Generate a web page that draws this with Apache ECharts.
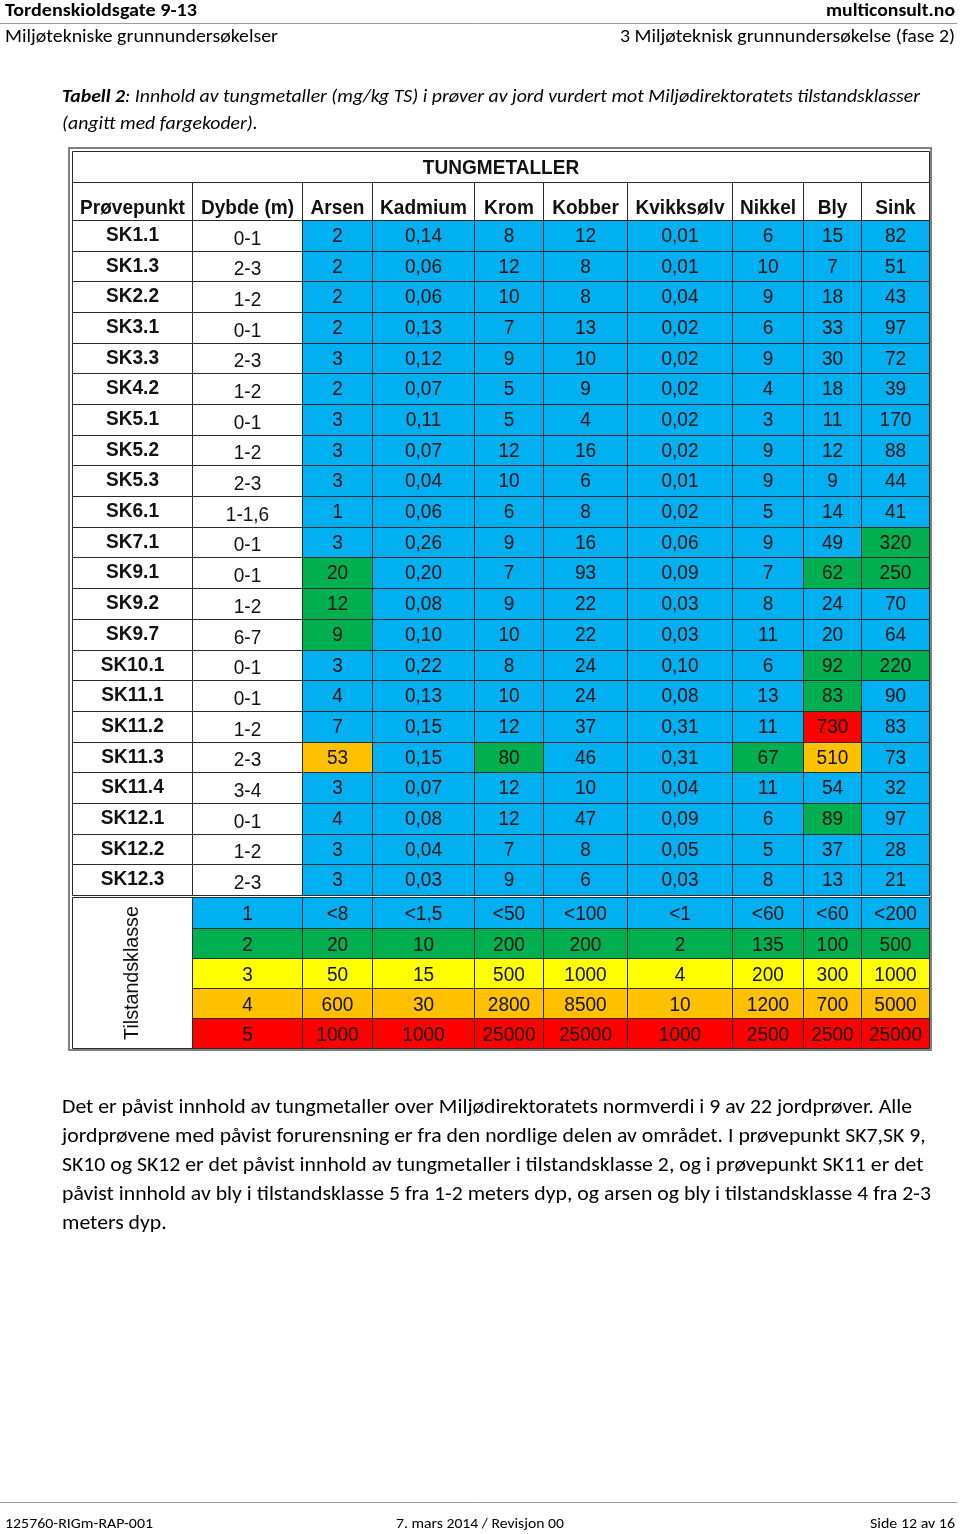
<!DOCTYPE html>
<html><head><meta charset="utf-8">
<script src="https://cdn.jsdelivr.net/npm/echarts@6/dist/echarts.min.js"></script>
<style>html,body{margin:0;padding:0;background:#fff}#c{width:960px;height:1534px}</style>
</head><body><div id="c"></div>
<script>
// ---------------- DATA ----------------
const title = 'TUNGMETALLER';
const samples = ['SK1.1','SK1.3','SK2.2','SK3.1','SK3.3','SK4.2','SK5.1','SK5.2','SK5.3','SK6.1','SK7.1','SK9.1','SK9.2','SK9.7','SK10.1','SK11.1','SK11.2','SK11.3','SK11.4','SK12.1','SK12.2','SK12.3'];
const depths = ['0-1','2-3','1-2','0-1','2-3','1-2','0-1','1-2','2-3','1-1,6','0-1','0-1','1-2','6-7','0-1','0-1','1-2','2-3','3-4','0-1','1-2','2-3'];
const metals = ['Arsen','Kadmium','Krom','Kobber','Kvikksølv','Nikkel','Bly','Sink'];
const headerLabels = ['Prøvepunkt','Dybde (m)'].concat(metals);

const arsen     = [2,2,2,2,3,2,3,3,3,1,3,20,12,9,3,4,7,53,3,4,3,3];
const kadmium   = [0.14,0.06,0.06,0.13,0.12,0.07,0.11,0.07,0.04,0.06,0.26,0.20,0.08,0.10,0.22,0.13,0.15,0.15,0.07,0.08,0.04,0.03];
const krom      = [8,12,10,7,9,5,5,12,10,6,9,7,9,10,8,10,12,80,12,12,7,9];
const kobber    = [12,8,8,13,10,9,4,16,6,8,16,93,22,22,24,24,37,46,10,47,8,6];
const kvikksolv = [0.01,0.01,0.04,0.02,0.02,0.02,0.02,0.02,0.01,0.02,0.06,0.09,0.03,0.03,0.10,0.08,0.31,0.31,0.04,0.09,0.05,0.03];
const nikkel    = [6,10,9,6,9,4,3,9,9,5,9,7,8,11,6,13,11,67,11,6,5,8];
const bly       = [15,7,18,33,30,18,11,12,9,14,49,62,24,20,92,83,730,510,54,89,37,13];
const sink      = [82,51,43,97,72,39,170,88,44,41,320,250,70,64,220,90,83,73,32,97,28,21];

// class limits (class 1 upper "<", then upper bounds of classes 2..5)
const arsenLimits     = [8,20,50,600,1000];
const kadmiumLimits   = [1.5,10,15,30,1000];
const kromLimits      = [50,200,500,2800,25000];
const kobberLimits    = [100,200,1000,8500,25000];
const kvikksolvLimits = [1,2,4,10,1000];
const nikkelLimits    = [60,135,200,1200,2500];
const blyLimits       = [60,100,300,700,2500];
const sinkLimits      = [200,500,1000,5000,25000];
const classes = [1,2,3,4,5];
const classLabel = 'Tilstandsklasse';

const metalValues = [arsen,kadmium,krom,kobber,kvikksolv,nikkel,bly,sink];
const metalLimits = [arsenLimits,kadmiumLimits,kromLimits,kobberLimits,kvikksolvLimits,nikkelLimits,blyLimits,sinkLimits];
const metalDecimals = [0,2,0,0,2,0,0,0];

// ---------------- STYLE / LAYOUT ----------------
const classColors = ['#00B0F0','#00B050','#FFFF00','#FFC000','#FF0000'];
const TFONT = '"Liberation Sans", Arial, sans-serif';
const DFONT = 'Carlito, Lato, "Open Sans", sans-serif';
const TSIZE = 20.5, TSCALE = 0.93;
const colW = [120,110,70,102,69,84,105,71,58,68];
const TITLE_H = 31, HEAD_H = 38, ROW_H = 30.68, GAP = 2.5, CROW_H = 30.1;

const colX = [0]; colW.forEach(w => colX.push(colX[colX.length-1] + w));
const rowY = [0, TITLE_H, TITLE_H + HEAD_H];
for (let i = 0; i < samples.length; i++) rowY.push(rowY[rowY.length-1] + ROW_H);
rowY.push(rowY[rowY.length-1] + GAP);
const classStart = rowY.length - 1;
for (let j = 0; j < classes.length; j++) rowY.push(rowY[rowY.length-1] + CROW_H);
const totalW = colX[colX.length-1], totalH = rowY[rowY.length-1];

function fmt(v, d) { return d ? v.toFixed(d).replace('.', ',') : String(v).replace('.', ','); }
function classOf(v, lim) {
  if (v < lim[0]) return 1;
  for (let k = 1; k < 5; k++) if (v <= lim[k]) return k + 1;
  return 5;
}

// ---------------- CELLS ----------------
const cells = [];
cells.push({c0:0,c1:10,r0:0,r1:1,text:title,bold:true,fill:'#fff',dy:1.5});
headerLabels.forEach((h,i) => cells.push({c0:i,c1:i+1,r0:1,r1:2,text:h,bold:true,fill:'#fff',dy:7}));
samples.forEach((s,r) => {
  cells.push({c0:0,c1:1,r0:2+r,r1:3+r,text:s,bold:true,fill:'#fff',dy:-0.5});
  cells.push({c0:1,c1:2,r0:2+r,r1:3+r,text:depths[r],fill:'#fff',dy:3});
  metalValues.forEach((arr,m) => {
    const v = arr[r];
    cells.push({c0:2+m,c1:3+m,r0:2+r,r1:3+r,text:fmt(v,metalDecimals[m]),fill:classColors[classOf(v,metalLimits[m])-1],dy:0.5});
  });
});
cells.push({c0:0,c1:1,r0:classStart,r1:classStart+classes.length,text:classLabel,fill:'#fff',rotate:true,dy:0});
classes.forEach((c,j) => {
  const r0 = classStart + j;
  cells.push({c0:1,c1:2,r0:r0,r1:r0+1,text:String(c),fill:classColors[j],dy:1.5});
  metalLimits.forEach((lim,m) => {
    const t = (j === 0 ? '<' : '') + fmt(lim[j], 0);
    cells.push({c0:2+m,c1:3+m,r0:r0,r1:r0+1,text:t,fill:classColors[j],dy:1.5});
  });
});

function renderItem(params, api) {
  const cell = cells[api.value(0)];
  const p0 = api.coord([colX[cell.c0], rowY[cell.r0]]);
  const p1 = api.coord([colX[cell.c1], rowY[cell.r1]]);
  const x0 = Math.round(p0[0]) + 0.5, y0 = Math.round(p0[1]) + 0.5;
  const x1 = Math.round(p1[0]) + 0.5, y1 = Math.round(p1[1]) + 0.5;
  const cx = (x0 + x1) / 2, cy = (y0 + y1) / 2;
  const children = [{
    type:'rect', shape:{x:x0,y:y0,width:x1-x0,height:y1-y0},
    style:{fill:cell.fill, stroke:'#2a2a2a', lineWidth:1}
  }];
  children.push({
    type:'text', x:cx, y:cy + cell.dy, rotation: cell.rotate ? Math.PI/2 : 0,
    scaleX: cell.rotate ? 0.96 : TSCALE, scaleY: 1,
    style:{text:cell.text, font:(cell.bold?'bold ':'') + TSIZE + 'px ' + TFONT,
      fill:'#111', align:'center', verticalAlign:'middle'}
  });
  return {type:'group', children};
}

// ---------------- DOCUMENT TEXT ----------------
const ctx = document.createElement('canvas').getContext('2d');
function measure(parts, size) {
  let w = 0;
  parts.forEach(p => { ctx.font = `${p.style||'normal'} ${p.weight||'normal'} ${size}px ${DFONT}`; w += ctx.measureText(p.text).width; });
  return w;
}
function docText(text, x, y, target, size, opts) {
  opts = opts || {};
  const sx = opts.scaleX || target / measure([{text, weight:opts.weight, style:opts.style}], size);
  return {type:'text', x, y, silent:true, scaleX:sx, scaleY:1,
    style:{text, font:`${opts.style||'normal'} ${opts.weight||'normal'} ${size}px ${DFONT}`,
      fill:'#000', align:opts.align||'left', verticalAlign:'middle'}};
}
const HEAD_SIZE = 18.5, CAP_SIZE = 19, PARA_SIZE = 19.5, FOOT_SIZE = 15;
const capBold = 'Tabell 2';
const capRest = ': Innhold av tungmetaller (mg/kg TS) i prøver av jord vurdert mot Miljødirektoratets tilstandsklasser';
const capScale = 858 / measure([{text:capBold,weight:'bold',style:'italic'},{text:capRest,style:'italic'}], CAP_SIZE);
const para = [
  'Det er påvist innhold av tungmetaller over Miljødirektoratets normverdi i 9 av 22 jordprøver. Alle',
  'jordprøvene med påvist forurensning er fra den nordlige delen av området. I prøvepunkt SK7,SK 9,',
  'SK10 og SK12 er det påvist innhold av tungmetaller i tilstandsklasse 2, og i prøvepunkt SK11 er det',
  'påvist innhold av bly i tilstandsklasse 5 fra 1-2 meters dyp, og arsen og bly i tilstandsklasse 4 fra 2-3',
  'meters dyp.'
];
const paraScale = 869 / measure([{text:para[3]}], PARA_SIZE);

const graphic = [
  docText('Tordenskioldsgate 9-13', 5, 11, 192, HEAD_SIZE, {weight:'bold'}),
  docText('multiconsult.no', 955, 11, 129, HEAD_SIZE, {weight:'bold', align:'right'}),
  {type:'line', silent:true, shape:{x1:0,y1:23.5,x2:957,y2:23.5}, style:{stroke:'#9a9a9a', lineWidth:1}},
  docText('Miljøtekniske grunnundersøkelser', 5, 37, 273, HEAD_SIZE),
  docText('3 Miljøteknisk grunnundersøkelse (fase 2)', 955, 37, 335, HEAD_SIZE, {align:'right'}),
  {type:'text', x:62, y:97.5, silent:true, scaleX:capScale, scaleY:1, style:{
    text:'{b|' + capBold + '}{i|' + capRest + '}', verticalAlign:'middle', align:'left',
    rich:{b:{font:`italic bold ${CAP_SIZE}px ${DFONT}`, fill:'#000'},
          i:{font:`italic normal ${CAP_SIZE}px ${DFONT}`, fill:'#000'}}}},
  docText('(angitt med fargekoder).', 62, 124.5, 0, CAP_SIZE, {style:'italic', scaleX:capScale}),
  {type:'rect', silent:true, shape:{x:69,y:148,width:862,height:902}, style:{fill:'none', stroke:'#808080', lineWidth:2}},
  {type:'line', silent:true, shape:{x1:0,y1:1502.5,x2:957,y2:1502.5}, style:{stroke:'#9a9a9a', lineWidth:1}},
  docText('125760-RIGm-RAP-001', 5, 1524, 148, FOOT_SIZE),
  docText('7. mars 2014 / Revisjon 00', 396, 1524, 168, FOOT_SIZE),
  docText('Side 12 av 16', 955, 1524, 85, FOOT_SIZE, {align:'right'})
];
para.forEach((t,i) => graphic.push(docText(t, 62, 1108.5 + i*29, 0, PARA_SIZE, {scaleX:paraScale})));

const chart = echarts.init(document.getElementById('c'), null, {renderer:'canvas'});
chart.setOption({
  animation:false,
  backgroundColor:'#fff',
  grid:{left:72, top:151, width:totalW, height:totalH, show:false},
  xAxis:{type:'value', min:0, max:totalW, show:false},
  yAxis:{type:'value', min:0, max:totalH, inverse:true, show:false},
  series:[{type:'custom', coordinateSystem:'cartesian2d', silent:true, clip:false,
    renderItem, data: cells.map((c,i) => [i, 0])}],
  graphic
});
</script></body></html>
